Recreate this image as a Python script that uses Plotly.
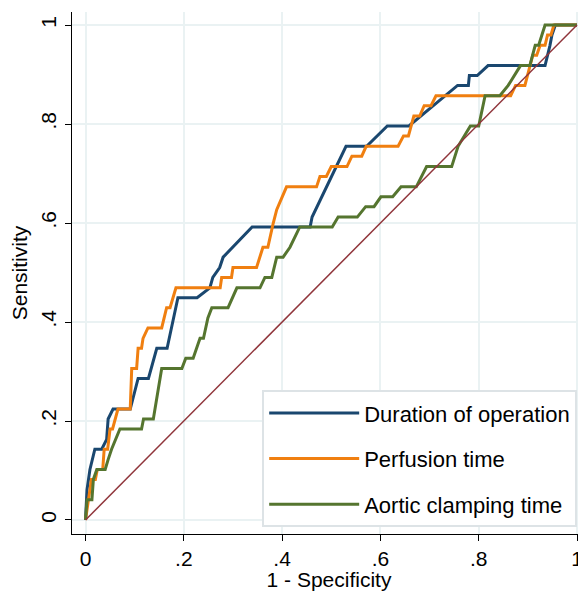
import plotly.graph_objects as go

# Duration of operation
dur_x = [0, 0.003, 0.009, 0.019, 0.033, 0.043, 0.046, 0.056, 0.091, 0.107, 0.128, 0.145, 0.166,
         0.188, 0.227, 0.253, 0.259, 0.273, 0.280, 0.339, 0.457, 0.461, 0.530, 0.572, 0.614,
         0.658, 0.757, 0.779, 0.781, 0.797, 0.819, 0.935, 0.945, 0.949, 0.956, 1.0]
dur_y = [0, 0.061, 0.102, 0.143, 0.143, 0.163, 0.204, 0.224, 0.224, 0.286, 0.286, 0.347, 0.347,
         0.449, 0.449, 0.469, 0.490, 0.510, 0.531, 0.592, 0.592, 0.612, 0.755, 0.755, 0.796,
         0.796, 0.878, 0.878, 0.898, 0.898, 0.918, 0.918, 0.959, 0.980, 1.0, 1.0]

# Perfusion time
per_x = [0, 0.003, 0.005, 0.012, 0.020, 0.024, 0.035, 0.038, 0.045, 0.047, 0.050, 0.055, 0.060,
         0.066, 0.091, 0.094, 0.104, 0.107, 0.114, 0.117, 0.127, 0.155, 0.165, 0.172, 0.184,
         0.274, 0.277, 0.297, 0.300, 0.348, 0.361, 0.371, 0.382, 0.389, 0.409, 0.470, 0.477,
         0.490, 0.500, 0.532, 0.542, 0.562, 0.571, 0.636, 0.647, 0.657, 0.668, 0.680, 0.689,
         0.703, 0.713, 0.865, 0.875, 0.894, 0.910, 0.918, 0.925, 0.935, 0.940, 0.947, 0.953, 1.0]
per_y = [0, 0.020, 0.041, 0.082, 0.082, 0.102, 0.102, 0.143, 0.143, 0.163, 0.184, 0.184, 0.204,
         0.224, 0.224, 0.306, 0.306, 0.347, 0.347, 0.367, 0.388, 0.388, 0.429, 0.429, 0.469,
         0.469, 0.490, 0.490, 0.510, 0.510, 0.551, 0.551, 0.600, 0.627, 0.673, 0.673, 0.694,
         0.694, 0.714, 0.714, 0.735, 0.735, 0.755, 0.755, 0.776, 0.776, 0.816, 0.816, 0.837,
         0.837, 0.857, 0.857, 0.878, 0.878, 0.939, 0.939, 0.959, 0.959, 0.980, 0.980, 1.0, 1.0]

# Aortic clamping time
aor_x = [0, 0.003, 0.013, 0.016, 0.023, 0.040, 0.046, 0.053, 0.070, 0.114, 0.118, 0.138, 0.155,
         0.196, 0.204, 0.219, 0.233, 0.240, 0.249, 0.257, 0.290, 0.308, 0.355, 0.365, 0.379,
         0.389, 0.402, 0.416, 0.436, 0.502, 0.514, 0.553, 0.570, 0.587, 0.601, 0.625, 0.642,
         0.673, 0.694, 0.745, 0.758, 0.783, 0.800, 0.813, 0.843, 0.860, 0.885, 0.904, 0.915,
         0.922, 0.935, 1.0]
aor_y = [0, 0.041, 0.041, 0.082, 0.102, 0.102, 0.122, 0.143, 0.184, 0.184, 0.204, 0.204, 0.306,
         0.306, 0.327, 0.327, 0.367, 0.367, 0.408, 0.429, 0.429, 0.469, 0.469, 0.490, 0.490,
         0.531, 0.531, 0.551, 0.592, 0.592, 0.612, 0.612, 0.633, 0.633, 0.653, 0.653, 0.673,
         0.673, 0.714, 0.714, 0.755, 0.796, 0.796, 0.857, 0.857, 0.878, 0.918, 0.918, 0.959,
         0.959, 1.0, 1.0]

ref_x = [0, 1]
ref_y = [0, 1]

tick_vals = [0, 0.2, 0.4, 0.6, 0.8, 1]
tick_text = ["0", ".2", ".4", ".6", ".8", "1"]

names = ["Duration of operation", "Perfusion time", "Aortic clamping time"]
colors = ["#1a476f", "#f07f10", "#55752f"]
FONT = "Liberation Sans, Arial, sans-serif"

fig = go.Figure()
for i, (xs, ys) in enumerate([(dur_x, dur_y), (per_x, per_y), (aor_x, aor_y)]):
    fig.add_trace(go.Scatter(x=xs, y=ys, mode="lines", name=names[i],
                             legendgroup=f"g{i}",
                             line=dict(color=colors[i], width=3)))
fig.add_trace(go.Scatter(x=ref_x, y=ref_y, mode="lines", showlegend=False,
                         line=dict(color="#90353b", width=1.5)))

axis_common = dict(
    tickvals=tick_vals, ticktext=tick_text,
    showgrid=True, gridcolor="#eaf2f3", gridwidth=2,
    zeroline=False, showline=True, linecolor="black", linewidth=1.3,
    ticks="outside", ticklen=6, tickcolor="black", tickwidth=1.3,
    tickfont=dict(family=FONT, size=21, color="black"),
    fixedrange=True, automargin=False,
)
fig.update_layout(
    width=578, height=583,
    margin=dict(l=64, r=0, t=4, b=57),
    paper_bgcolor="white", plot_bgcolor="white",
    font=dict(family=FONT, color="black"),
    xaxis=dict(range=[-0.0275, 1.0183],
               title=dict(text="1 - Specificity", font=dict(family=FONT, size=21), standoff=2),
               **axis_common),
    yaxis=dict(range=[-0.0283, 1.0263], tickangle=-90,
               title=dict(text="Sensitivity", font=dict(family=FONT, size=21), standoff=4),
               **axis_common),
    legend=dict(x=0.37, y=0.013, xanchor="left", yanchor="bottom",
                bgcolor="white", bordercolor="#dde3e6", borderwidth=2,
                font=dict(family=FONT, size=22, color="black"),
                tracegroupgap=14, traceorder="grouped", itemwidth=90),
    showlegend=True,
)
fig.write_html("out.html")
